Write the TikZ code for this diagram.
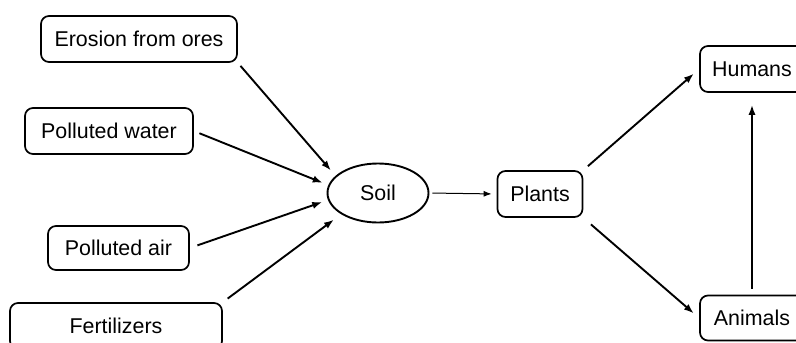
\documentclass[tikz,border=0pt]{standalone}
\usepackage{fontspec}
\setmainfont{Liberation Sans}
\usetikzlibrary{arrows.meta,shapes.geometric}

\begin{document}
\begin{tikzpicture}[x=0.5pt, y=-0.5pt,
    box/.style={draw, rounded corners=4pt, line width=0.85pt, minimum height=23pt,
        inner sep=0pt, font=\fontsize{10.7}{12}\selectfont},
    fleche/.style={-{Latex[length=5pt,width=3.6pt]}, line width=0.95pt}]
    % Cadre de l'image
    \useasboundingbox (0,0) rectangle (796,342);
    \clip (0,0) rectangle (796,342);

    % Sources
    \node[box, minimum width=98pt] (ero) at (139,39) {Erosion from ores};
    \node[box, minimum width=84pt] (water) at (109,131) {Polluted water};
    \node[box, minimum width=70.5pt, minimum height=22pt] (air) at (118.5,248) {Polluted air};
    \node[box, minimum width=106pt] (fert) at (116,326) {Fertilizers};

    % Sol et chaine
    \node[draw, ellipse, line width=0.95pt, minimum width=50.5pt, minimum height=29.5pt,
        inner sep=0pt, font=\fontsize{10.7}{12}\selectfont] (soil) at (378,193) {Soil};
    \node[box, minimum width=42.5pt] (plants) at (540,194) {Plants};
    \node[box, minimum width=52pt] (humans) at (752,69) {Humans};
    \node[box, minimum width=52pt, minimum height=22.5pt] (animals) at (752,318) {Animals};

    % Fleches vers le sol
    \draw[fleche, shorten <=2pt, shorten >=3.5pt] (ero.south east) -- (soil.158);
    \draw[fleche, shorten <=3pt, shorten >=3pt] (water.east) -- (soil.171);
    \draw[fleche, shorten <=4pt, shorten >=3pt] (air.east) -- (soil.188);
    \draw[fleche, shorten <=3pt, shorten >=4.5pt] (fert.north east) -- (soil.210);

    % Du sol vers les etres vivants
    \draw[-{Latex[length=4pt,width=3pt]}, line width=0.5pt, shorten <=1.5pt, shorten >=2.5pt] (soil.east) -- (plants.west);
    \draw[fleche, shorten <=3pt, shorten >=3.5pt] (plants.north east) -- (humans.west);
    \draw[fleche, shorten <=5pt, shorten >=3.5pt] (plants.south east) -- (animals.west);
    \draw[fleche, shorten <=3pt, shorten >=6pt] (animals.north) -- (humans.south);
\end{tikzpicture}
\end{document}
